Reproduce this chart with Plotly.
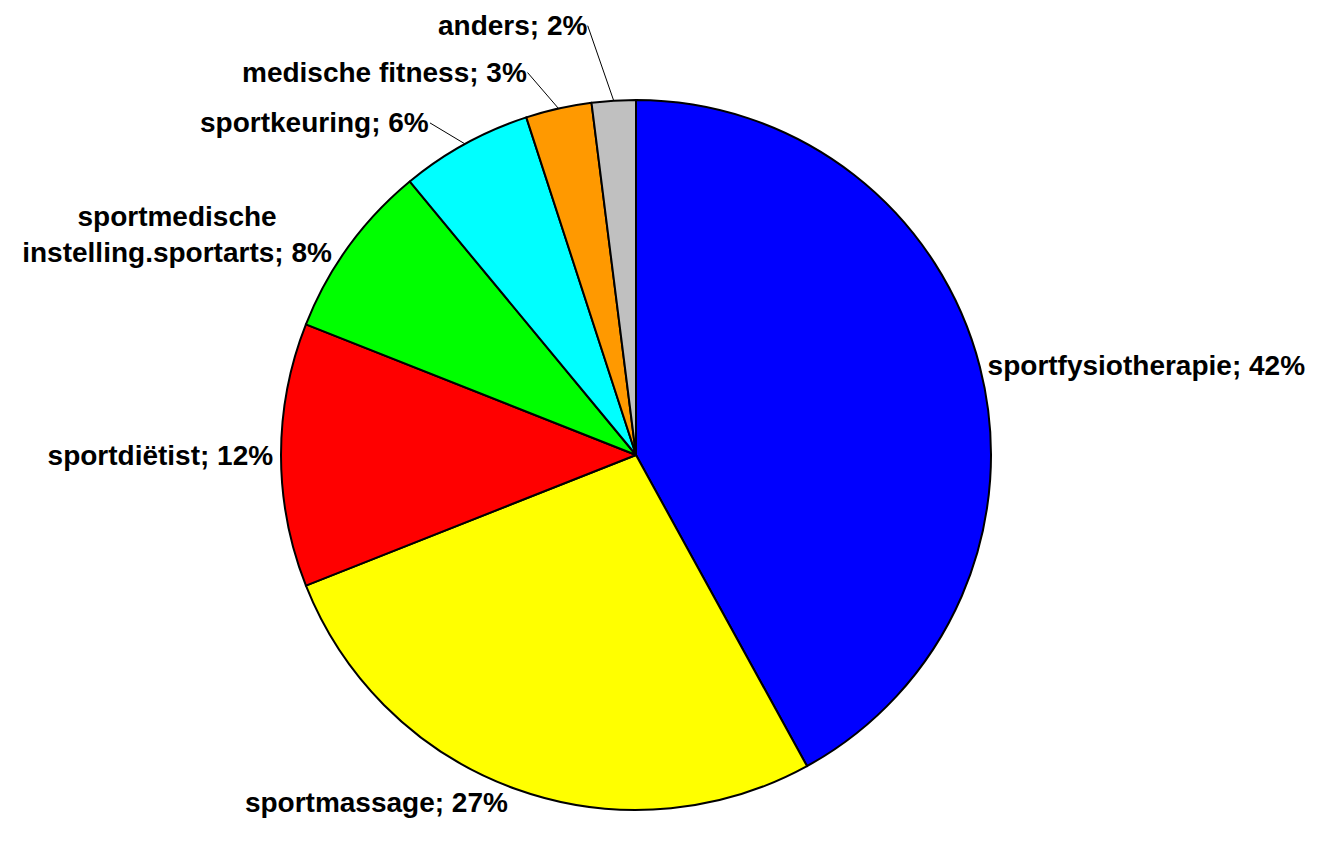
import math
import plotly.graph_objects as go

labels = ["sportfysiotherapie", "sportmassage", "sportdiëtist",
          "sportmedische<br>instelling.sportarts", "sportkeuring",
          "medische fitness", "anders"]
values = [42, 27, 12, 8, 6, 3, 2]
colors = ["#0000FF", "#FFFF00", "#FF0000", "#00FF00", "#00FFFF", "#FF9900", "#C0C0C0"]

# label offsets (pixels) for the small slices drawn with leader lines
callout_offsets = {4: (-35, -21), 5: (-31, -36), 6: (-26, -75)}

W, H = 1328, 843
cx, R = 628, 355
FONT = "Liberation Sans, Arial, sans-serif"

textpos = ["none" if i in callout_offsets else "outside" for i in range(len(values))]

fig = go.Figure(go.Pie(
    labels=labels,
    values=values,
    sort=False,
    direction="clockwise",
    rotation=0,
    marker=dict(colors=colors, line=dict(color="black", width=2)),
    texttemplate="<b>%{label}; %{value}%</b>",
    textposition=textpos,
    textfont=dict(family=FONT, size=28, color="black", weight="bold"),
    hoverinfo="label+percent",
    domain=dict(x=[(cx - R) / W, (cx + R) / W], y=[0, 1]),
    automargin=False,
    showlegend=False,
))

total = sum(values)
cum = 0
annotations = []
for i, v in enumerate(values):
    mid = (cum + v / 2) / total
    cum += v
    if i not in callout_offsets:
        continue
    th = 2 * math.pi * mid
    px = (cx + R * math.sin(th)) / W
    py = 0.5 + 0.5 * math.cos(th)
    ax, ay = callout_offsets[i]
    annotations.append(dict(
        x=px, y=py, xref="paper", yref="paper",
        text=f"<b>{labels[i]}; {v}%</b>",
        showarrow=True, arrowhead=0, arrowwidth=1, arrowcolor="black",
        ax=ax, ay=ay, xanchor="right", yanchor="middle",
        borderpad=0,
        font=dict(family=FONT, size=28, color="black"),
    ))

fig.update_layout(
    width=W, height=H,
    margin=dict(l=0, r=0, t=92, b=41),
    paper_bgcolor="white",
    plot_bgcolor="white",
    font=dict(family=FONT, color="black"),
    annotations=annotations,
)
fig.write_html("out.html")
